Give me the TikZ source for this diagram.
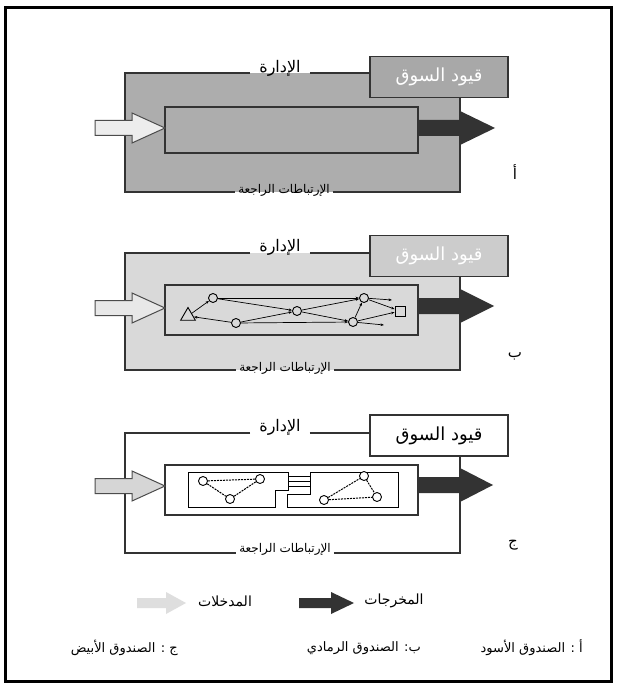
\documentclass[tikz,border=0pt]{standalone}
\usepackage{fontspec}
\newfontfamily\arabicfont[Script=Arabic]{DejaVu Sans}
\TeXXeTstate=1
\usetikzlibrary{shapes.geometric, arrows.meta, positioning}
\newcommand{\artxt}[1]{{\arabicfont\beginR #1\endR}}
% block arrow: style, x start, head start, tip, y centre, shaft half, head half
\newcommand{\blockarr}[7]{%
  \path[#1] (#2,#5-#6) -- (#3,#5-#6) -- (#3,#5-#7) -- (#4,#5)
    -- (#3,#5+#7) -- (#3,#5+#6) -- (#2,#5+#6) -- cycle;}

\begin{document}
\begin{tikzpicture}[
    x=1pt, y=-1pt,
    edge/.style={draw=black!80, line width=1.3pt},
    mgmt/.style={font=\fontsize{16}{18}\selectfont, inner xsep=9pt, inner ysep=1pt},
    fbk/.style={font=\fontsize{12}{14}\selectfont, inner xsep=3pt, inner ysep=1pt},
    market/.style={draw=black!80, line width=1.3pt, minimum width=138pt,
      minimum height=41pt, font=\fontsize{18}{20}\selectfont, inner sep=0pt},
    proc/.style={draw=black!80, line width=1.3pt, minimum width=253pt, inner sep=0pt},
    letter/.style={font=\fontsize{15}{17}\selectfont},
    legend/.style={font=\fontsize{14}{16}\selectfont, inner sep=1pt},
    key/.style={font=\fontsize{13}{15}\selectfont, anchor=east, inner sep=1pt},
    inarr/.style={draw=black!70, line width=1pt},
    outarr/.style={fill=black!80},
    crc/.style={circle, draw, line width=0.9pt, minimum size=9pt, inner sep=0pt},
    tri/.style={regular polygon, regular polygon sides=3, draw, line width=0.9pt,
      minimum size=17pt, inner sep=0pt},
    sqr/.style={rectangle, draw, line width=0.9pt, minimum size=10pt, inner sep=0pt},
    net/.style={-{Stealth[length=3.5pt]}, line width=0.7pt},
    dnet/.style={line width=1pt, dash pattern=on 2pt off 1pt},
    sub/.style={draw, line width=1pt}
  ]
    \useasboundingbox (0,0) rectangle (616,684);
    \fill[white] (0,0) rectangle (616,684);
    \draw[line width=3pt] (5,8) rectangle (611,681);

    % --- أ : black box ---
    \fill[black!32] (125,73) rectangle (460,192);
    \node[mgmt] (mgA) at (280,68) {\artxt{الإدارة}};
    \node[fbk]  (fbA) at (284,190) {\artxt{الإرتباطات الراجعة}};
    \node[market, fill=black!34, text=white] (mkA) at (439,77) {\artxt{قيود السوق}};
    \coordinate (rA) at (460,192);
    \draw[edge] (mgA.west |- 0,73) -- (125,73) -- (125,192) -- (fbA.west |- 0,192);
    \draw[edge] (mgA.east |- 0,73) -- (mkA.west |- 0,73);
    \draw[edge] (fbA.east |- 0,192) -- (rA) -- (rA |- mkA.south);
    \node[proc, fill=black!32, minimum height=46pt] (prA) at (291.5,130) {};
    \blockarr{inarr, fill=black!7}{95}{132}{165}{128}{7.5}{15}
    \blockarr{outarr}{418}{460}{495}{128}{8}{17}
    \node[letter] (ltA) at (515,172) {\artxt{أ}};

    % --- ب : grey box ---
    \fill[black!15] (125,253) rectangle (460,370);
    \node[mgmt] (mgB) at (280,247) {\artxt{الإدارة}};
    \node[fbk]  (fbB) at (285,368) {\artxt{الإرتباطات الراجعة}};
    \node[market, fill=black!20, text=white] (mkB) at (439,256) {\artxt{قيود السوق}};
    \coordinate (rB) at (460,370);
    \draw[edge] (mgB.west |- 0,253) -- (125,253) -- (125,370) -- (fbB.west |- 0,370);
    \draw[edge] (mgB.east |- 0,253) -- (mkB.west |- 0,253);
    \draw[edge] (fbB.east |- 0,370) -- (rB) -- (rB |- mkB.south);
    \node[proc, fill=black!15, minimum height=50pt] (prB) at (291.5,310) {};
    \blockarr{inarr, fill=black!9}{95}{132}{165}{308}{7.5}{15}
    \blockarr{outarr}{418}{460}{494}{306}{8}{17}
    \node[letter] (ltB) at (515,356) {\artxt{ب}};

    \node[tri, fill=black!15] (tB) at (188,316) {};
    \node[crc, fill=black!15] (b1) at (213,298) {};
    \node[crc, fill=black!15] (b2) at (236,323) {};
    \node[crc, fill=black!15] (b3) at (297,311) {};
    \node[crc, fill=black!15] (b4) at (364,298) {};
    \node[crc, fill=black!15] (b5) at (353,322) {};
    \node[sqr, fill=black!15] (b6) at (400,311) {};
    \coordinate (e1) at (392,300);
    \coordinate (e2) at (384,325);
    \draw[net] (tB) -- (b1);
    \draw[net] (b2) -- (tB);
    \draw[net] (b1) -- (b4);
    \draw[net] (b1) -- (b3);
    \draw[net] (b2) -- (b3);
    \draw[net] (b2) -- (b5);
    \draw[net] (b3) -- (b4);
    \draw[net] (b3) -- (b5);
    \draw[net] (b5) -- (b4);
    \draw[net] (b4) -- (e1);
    \draw[net] (b5) -- (e2);
    \draw[net] (b4) -- (b6);
    \draw[net] (b5) -- (b6);

    % --- ج : white box ---
    \node[mgmt] (mgC) at (280,427) {\artxt{الإدارة}};
    \node[fbk]  (fbC) at (285,549) {\artxt{الإرتباطات الراجعة}};
    \node[market, fill=white] (mkC) at (439,435.5) {\artxt{قيود السوق}};
    \coordinate (rC) at (460,553);
    \draw[edge] (mgC.west |- 0,433) -- (125,433) -- (125,553) -- (fbC.west |- 0,553);
    \draw[edge] (mgC.east |- 0,433) -- (mkC.west |- 0,433);
    \draw[edge] (fbC.east |- 0,553) -- (rC) -- (rC |- mkC.south);
    \node[proc, fill=white, minimum height=50pt] (prC) at (291.5,490) {};
    \blockarr{inarr, fill=black!16}{95}{132}{165}{486}{7.5}{15}
    \blockarr{outarr}{417}{460}{493}{485}{8}{17}
    \node[letter] (ltC) at (513,545) {\artxt{ج}};

    \draw[sub] (188,472) -- (288,472) -- (288,490) -- (275,490) -- (275,507) -- (188,507) -- cycle;
    \draw[sub] (310,472) -- (398,472) -- (398,507) -- (287,507) -- (287,494) -- (310,494) -- cycle;
    \draw[line width=0.8pt] (288,476) -- (310,476);
    \draw[line width=0.8pt] (288,481) -- (310,481);
    \draw[line width=0.8pt] (288,486) -- (310,486);
    \node[crc, fill=white] (c1) at (203,481) {};
    \node[crc, fill=white] (c2) at (260,479) {};
    \node[crc, fill=white] (c3) at (230,499) {};
    \node[crc, fill=white] (c4) at (364,476) {};
    \node[crc, fill=white] (c5) at (324,500) {};
    \node[crc, fill=white] (c6) at (377,497) {};
    \draw[dnet] (c1) -- (c2);
    \draw[dnet] (c1) -- (c3);
    \draw[dnet] (c3) -- (c2);
    \draw[dnet] (c5) -- (c4);
    \draw[dnet] (c4) -- (c6);
    \draw[dnet] (c5) -- (c6);

    % --- legend ---
    \blockarr{fill=black!13}{137}{166}{186}{603}{5}{11}
    \node[legend] (lgIn) at (225,601) {\artxt{المدخلات}};
    \blockarr{outarr}{299}{331}{354}{603}{5}{11}
    \node[legend] (lgOut) at (394,601) {\artxt{المخرجات}};
    \node[key] (kA) at (584,648) {\artxt{أ : الصندوق الأسود}};
    \node[key] (kB) at (422,648) {\artxt{ب: الصندوق الرمادي}};
    \node[key] (kC) at (179,648) {\artxt{ج : الصندوق الأبيض}};
  \end{tikzpicture}
\end{document}
